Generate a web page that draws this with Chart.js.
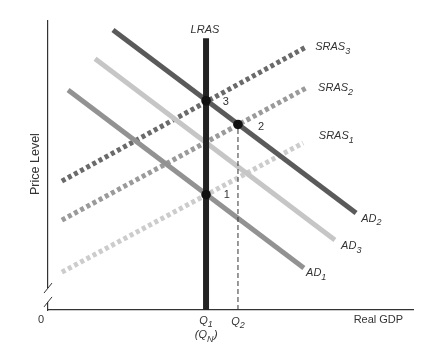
<!DOCTYPE html>
<html>
<head>
<meta charset="utf-8">
<script src="https://cdn.jsdelivr.net/npm/chart.js@4.4.1/dist/chart.umd.min.js"></script>
<style>
html,body{margin:0;padding:0;background:#fff;}
#wrap{width:442px;height:356px;position:relative;}
</style>
</head>
<body>
<div id="wrap"><canvas id="c" width="442" height="356"></canvas></div>
<script>
// ---- data (model units: Real GDP 0..100, Price Level 0..100) ----
const lrasX = [43.3, 43.3];
const lrasY = [0, 94.0];
const ad1X = [5.5, 70.1];
const ad1Y = [76.1, 14.5];
const ad2X = [17.8, 84.4];
const ad2Y = [96.9, 33.6];
const ad3X = [12.9, 78.6];
const ad3Y = [86.9, 24.2];
const sras1X = [3.8, 69.9];
const sras1Y = [13.1, 57.8];
const sras2X = [3.8, 70.7];
const sras2Y = [31.1, 76.8];
const sras3X = [3.8, 70.7];
const sras3Y = [44.6, 91.0];
const eqX = [43.3, 52.05, 43.3];
const eqY = [72.4, 64.2, 39.9];
const eqLabels = ['3', '2', '1'];
const q2X = [52.05, 52.05];
const q2Y = [0, 64.2];

const pts = (xs, ys) => xs.map((x, i) => ({x, y: ys[i]}));

const lineDs = (label, xs, ys, color, width, dash, order) => ({
  label, data: pts(xs, ys), showLine: true, borderColor: color, borderWidth: width,
  borderDash: dash || [], pointRadius: 0, clip: false, order, borderCapStyle: 'butt', fill: false
});

const FONT = '"Liberation Sans", Arial, sans-serif';

// Text annotations: [text, subscript, x, y, align, italic]
const notes = [
  ['LRAS', '', 43.0, 96.9, 'center', true],
  ['SRAS', '3', 73.2, 91.0, 'left', true],
  ['SRAS', '2', 74.0, 76.8, 'left', true],
  ['SRAS', '1', 74.2, 60.2, 'left', true],
  ['AD', '2', 85.8, 31.5, 'left', true],
  ['AD', '3', 80.3, 22.1, 'left', true],
  ['AD', '1', 70.7, 12.8, 'left', true],
  ['Q', '1', 43.3, -3.8, 'center', true],
  ['(Q', 'N', 43.3, -8.7, 'center', true, ')'],
  ['Q', '2', 52.05, -4.0, 'center', true],
  ['0', '', -1.9, -3.5, 'center', false],
  ['Real GDP', '', 97.3, -3.6, 'right', false],
];

const annot = {
  id: 'annot',
  afterDraw(chart) {
    const ctx = chart.ctx, xs = chart.scales.x, ys = chart.scales.y;
    ctx.save();
    ctx.textBaseline = 'middle';
    // y-axis break
    const bx = xs.getPixelForValue(0);
    const b1 = ys.getPixelForValue(2.8), b2 = ys.getPixelForValue(7.6);
    ctx.fillStyle = '#fff';
    ctx.fillRect(bx - 2, b2, 4, b1 - b2);
    ctx.strokeStyle = '#333'; ctx.lineWidth = 1;
    [b1, b2].forEach((b) => {
      ctx.beginPath(); ctx.moveTo(bx - 4, b + 5); ctx.lineTo(bx + 4, b - 5); ctx.stroke();
    });
    ctx.fillStyle = '#333';
    // equilibrium labels
    ctx.font = '11px ' + FONT;
    ctx.textAlign = 'center';
    const eqOff = [[5.4, -0.4], [6.3, -0.9], [5.7, 0]];
    eqLabels.forEach((t, i) => {
      ctx.fillText(t, xs.getPixelForValue(eqX[i] + eqOff[i][0]), ys.getPixelForValue(eqY[i] + eqOff[i][1]));
    });
    // texts with subscripts
    notes.forEach(([t, sub, x, y, align, it, tail]) => {
      const f = (it ? 'italic ' : '') + '11px ' + FONT;
      const fs = (it ? 'italic ' : '') + '9px ' + FONT;
      ctx.font = f; const w1 = ctx.measureText(t).width;
      ctx.font = fs; const w2 = sub ? ctx.measureText(sub).width : 0;
      ctx.font = f; const w3 = tail ? ctx.measureText(tail).width : 0;
      const tw = w1 + w2 + w3;
      let px = xs.getPixelForValue(x), py = ys.getPixelForValue(y);
      let left = align === 'left' ? px : align === 'center' ? px - tw / 2 : px - tw;
      ctx.textAlign = 'left';
      ctx.font = f; ctx.fillText(t, left, py);
      if (sub) { ctx.font = fs; ctx.fillText(sub, left + w1, py + 4); }
      if (tail) { ctx.font = f; ctx.fillText(tail, left + w1 + w2 + 0.5, py); }
    });
    // Price Level (rotated)
    ctx.font = '12.5px ' + FONT;
    ctx.translate(xs.getPixelForValue(-3.4), ys.getPixelForValue(50.5));
    ctx.rotate(-Math.PI / 2);
    ctx.textAlign = 'center';
    ctx.fillText('Price Level', 0, 0);
    ctx.restore();
  }
};

new Chart(document.getElementById('c'), {
  type: 'scatter',
  data: {
    datasets: [
      {label: 'eq', data: pts(eqX, eqY), showLine: false, pointRadius: 4.8, pointBackgroundColor: '#111', pointBorderWidth: 0, clip: false, order: 0},
      lineDs('LRAS', lrasX, lrasY, '#222', 6, null, 1),
      lineDs('Q2', q2X, q2Y, '#333', 1, [5, 3], 2),
      lineDs('AD2', ad2X, ad2Y, '#5a5a5a', 5, null, 3),
      lineDs('AD3', ad3X, ad3Y, '#c6c6c6', 5, null, 4),
      lineDs('AD1', ad1X, ad1Y, '#929292', 5, null, 5),
      lineDs('SRAS3', sras3X, sras3Y, '#6a6a6a', 5, [4, 3], 6),
      lineDs('SRAS2', sras2X, sras2Y, '#9a9a9a', 5, [4, 3], 7),
      lineDs('SRAS1', sras1X, sras1Y, '#cccccc', 5, [4, 3], 8),
    ]
  },
  options: {
    responsive: false,
    animation: false,
    events: [],
    layout: {padding: {left: 48, right: 29, top: 21, bottom: 46}},
    plugins: {legend: {display: false}, tooltip: {enabled: false}},
    scales: {
      x: {type: 'linear', min: 0, max: 100, grid: {display: false, drawTicks: false}, ticks: {display: false}, border: {display: true, color: '#333', width: 1.2}},
      y: {type: 'linear', min: 0, max: 100, grid: {display: false, drawTicks: false}, ticks: {display: false}, border: {display: true, color: '#333', width: 1.2}}
    }
  },
  plugins: [annot]
});
</script>
</body>
</html>
